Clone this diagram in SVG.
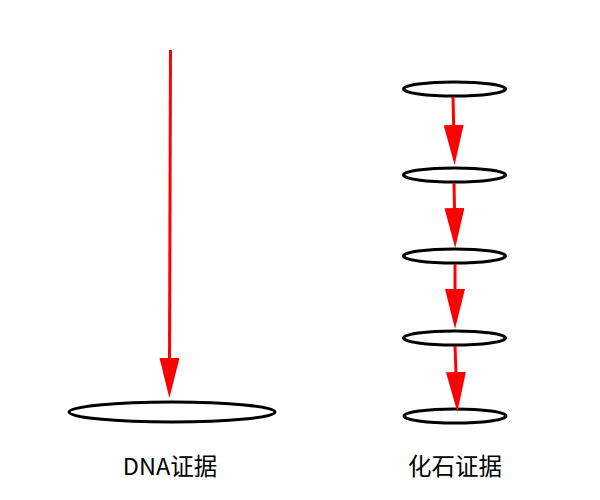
<svg xmlns="http://www.w3.org/2000/svg" width="600" height="500" viewBox="0 0 600 500">
<style>
.node ellipse{fill:#fff;stroke:#000;stroke-width:3}
.conn line{stroke:#ff0000;stroke-width:3;fill:none}
text{font-family:"Noto Sans CJK SC","Liberation Sans",sans-serif;font-size:23.5px;fill:#000;text-anchor:middle}
</style>
<defs>
<marker id="ah" viewBox="0 0 40 20" markerWidth="40" markerHeight="20" refX="2" refY="10" orient="auto" markerUnits="userSpaceOnUse">
<path d="M0,0 L40,10 L0,20 z" fill="#ff0000"/>
</marker>
</defs>
<rect width="600" height="500" fill="#fff"/>
<g id="dna-layer" class="node"><ellipse cx="172" cy="412" rx="103" ry="10"/></g>
<g id="fossil1" class="node"><ellipse cx="454.5" cy="89" rx="51" ry="7"/></g>
<g id="fossil2" class="node"><ellipse cx="454.5" cy="175" rx="51" ry="7"/></g>
<g id="fossil3" class="node"><ellipse cx="454.5" cy="256" rx="51" ry="7"/></g>
<g id="fossil4" class="node"><ellipse cx="454.5" cy="338" rx="51" ry="7"/></g>
<g id="fossil5" class="node"><ellipse cx="455" cy="416" rx="51" ry="7"/></g>
<g id="connectors" class="conn">
<line x1="170.5" y1="50" x2="169.5" y2="360" marker-end="url(#ah)"/>
<line x1="453" y1="97" x2="453.7" y2="127" marker-end="url(#ah)"/>
<line x1="454" y1="183" x2="454.5" y2="210" marker-end="url(#ah)"/>
<line x1="455" y1="264" x2="455" y2="291" marker-end="url(#ah)"/>
<line x1="455" y1="346" x2="456" y2="374" marker-end="url(#ah)"/>
</g>
<g id="labels">
<text x="170" y="475">DNA证据</text>
<text x="455" y="475">化石证据</text>
</g>
</svg>
